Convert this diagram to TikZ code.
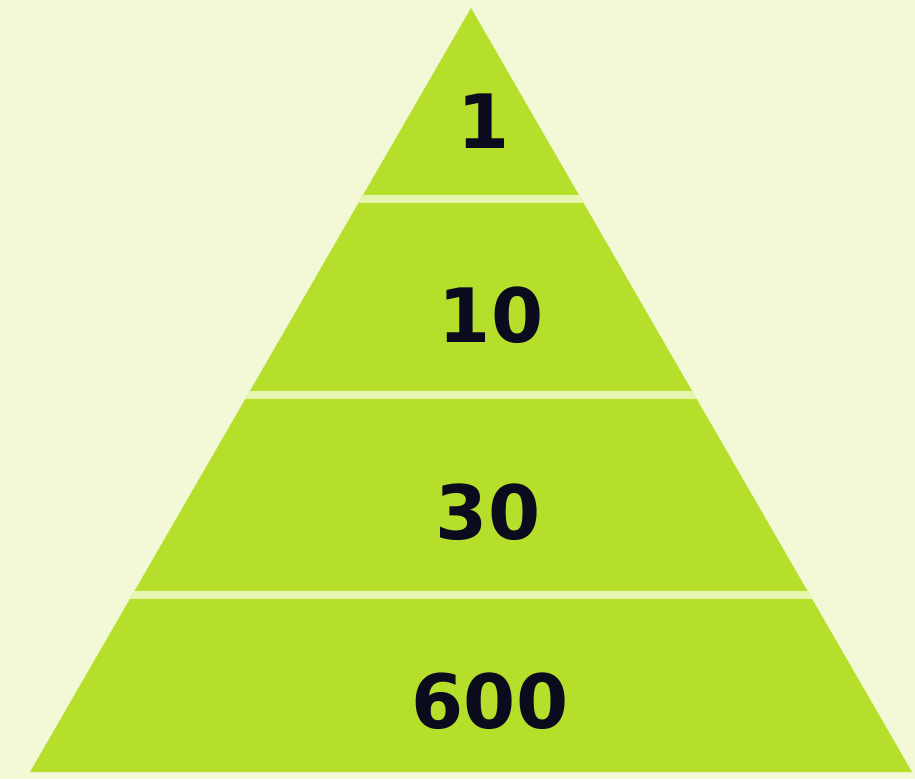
\documentclass[tikz,border=0pt]{standalone}
\usepackage{fontspec}
\newfontfamily\numfont{DejaVu Sans}[BoldFont={DejaVu Sans Bold}]
\definecolor{bg}{HTML}{F3F8D6}
\definecolor{tier}{HTML}{B6DF2C}
\definecolor{stripe}{HTML}{E6F5B0}
\definecolor{ink}{HTML}{0B0B1E}
\tikzset{
  tiernum/.style={font=\numfont\bfseries\fontsize{75}{75}\selectfont, text=ink, inner sep=0pt, anchor=center},
  gapline/.style={draw=stripe, line width=8pt}
}
\begin{document}
\begin{tikzpicture}[x=1pt,y=-1pt]
  \fill[bg] (0,0) rectangle (915,779);
  \useasboundingbox (0,0) rectangle (915,779);
  \coordinate (apex) at (471,8);
  \coordinate (bl) at (30,772);
  \coordinate (br) at (912,772);
  \fill[tier] (apex) -- (br) -- (bl) -- cycle;
  % separating stripes
  \coordinate (s1l) at (350,199); \coordinate (s1r) at (592,199);
  \coordinate (s2l) at (240,395); \coordinate (s2r) at (705,395);
  \coordinate (s3l) at (125,595); \coordinate (s3r) at (820,595);
  \begin{scope}
    \clip (apex) -- (br) -- (bl) -- cycle;
    \draw[gapline] (s1l) -- (s1r);
    \draw[gapline] (s2l) -- (s2r);
    \draw[gapline] (s3l) -- (s3r);
  \end{scope}
  \node[tiernum] (n1) at (484,121) {1};
  \node[tiernum] (n2) at (491,315) {10};
  \node[tiernum] (n3) at (488,512) {30};
  \node[tiernum] (n4) at (490,701) {600};
\end{tikzpicture}
\end{document}
